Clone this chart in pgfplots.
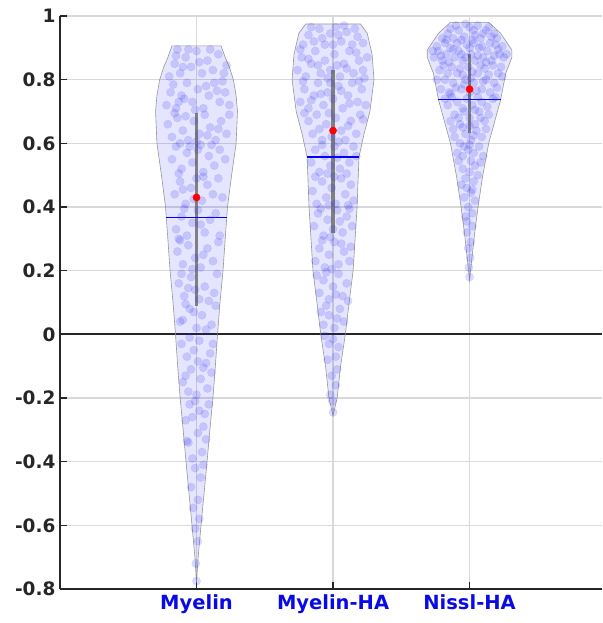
\documentclass[border=0pt]{standalone}
\usepackage{fontspec}
\setmainfont{DejaVu Sans}
\usepackage{pgfplots}
\pgfplotsset{compat=1.18}
\definecolor{txt}{RGB}{38,38,38}
\definecolor{lblue}{RGB}{10,10,230}
\definecolor{pblue}{RGB}{40,40,240}
\begin{document}
\begin{tikzpicture}
\begin{axis}[
  at={(0,0)}, anchor=south west,
  scale only axis, width=542pt, height=573pt,
  xmin=0, xmax=3.97, ymin=-0.8, ymax=1,
  axis x line*=bottom, axis y line*=left,
  axis line style={line width=1.8pt, color=txt},
  xtick={1,2,3}, xticklabels={Myelin,Myelin-HA,Nissl-HA},
  ytick={-0.8,-0.6,-0.4,-0.2,0,0.2,0.4,0.6,0.8,1},
  tick align=inside, major tick length=7pt,
  tick style={line width=1.4pt, color=txt},
  grid=major, major grid style={line width=1.4pt, color=black!15},
  /pgf/number format/assume math mode=true,
  yticklabel style={font=\fontsize{18.5}{20}\selectfont\bfseries, text=txt, xshift=-1pt},
  xticklabel style={font=\fontsize{19.5}{21}\selectfont\bfseries, text=lblue, yshift=-2pt},
  clip=false
]
% zero line
\addplot[txt, line width=2pt] coordinates {(0,0) (3.97,0)};
% violins
\pgfplotsset{vio/.style={fill=blue, fill opacity=0.1, draw=black!45, draw opacity=0.9, line width=0.6pt}}
\addplot[vio] coordinates {
(1,-0.78) (1.012,-0.7) (1.033,-0.6) (1.055,-0.5) (1.077,-0.4) (1.098,-0.3) (1.12,-0.2) (1.138,-0.1) (1.154,0) (1.172,0.1) (1.194,0.2) (1.21,0.3) (1.227,0.4) (1.257,0.5) (1.29,0.6) (1.30,0.7) (1.29,0.75) (1.27,0.8) (1.24,0.84) (1.21,0.87) (1.18,0.906)
(0.82,0.906) (0.79,0.87) (0.76,0.84) (0.73,0.8) (0.71,0.75) (0.70,0.7) (0.71,0.6) (0.743,0.5) (0.773,0.4) (0.79,0.3) (0.806,0.2) (0.828,0.1) (0.846,0) (0.862,-0.1) (0.88,-0.2) (0.902,-0.3) (0.923,-0.4) (0.945,-0.5) (0.967,-0.6) (0.988,-0.7)} -- cycle;
\addplot[vio] coordinates {
(2,-0.255) (2.03,-0.2) (2.055,-0.1) (2.09,0) (2.12,0.107) (2.147,0.2) (2.176,0.4) (2.19,0.557) (2.227,0.63) (2.27,0.7) (2.30,0.8) (2.286,0.88) (2.25,0.946) (2.20,0.975)
(1.80,0.975) (1.75,0.946) (1.714,0.88) (1.70,0.8) (1.73,0.7) (1.773,0.63) (1.81,0.557) (1.824,0.4) (1.853,0.2) (1.88,0.107) (1.91,0) (1.945,-0.1) (1.97,-0.2)} -- cycle;
\addplot[vio] coordinates {
(3,0.17) (3.015,0.23) (3.037,0.317) (3.062,0.4) (3.095,0.495) (3.14,0.6) (3.227,0.736) (3.265,0.82) (3.31,0.87) (3.31,0.893) (3.227,0.946) (3.14,0.98)
(2.86,0.98) (2.773,0.946) (2.69,0.893) (2.69,0.87) (2.735,0.82) (2.773,0.736) (2.86,0.6) (2.905,0.495) (2.938,0.4) (2.963,0.317) (2.985,0.23)} -- cycle;
% scatter points
\pgfplotsset{pts/.style={only marks, mark=*, mark size=4.2pt, mark options={fill=pblue, draw=pblue, fill opacity=0.17, draw opacity=0.12, line width=0.3pt}}}
\addplot[pts] coordinates {
(1.00,-0.775) (0.995,-0.72) (1.01,-0.65) (0.99,-0.61)
(0.975,-0.545) (1.02,-0.58) (1.01,-0.52)
(0.96,-0.48) (1.03,-0.45) (0.99,-0.42) (1.05,-0.41)
(0.93,-0.335) (0.94,-0.34) (1.04,-0.37) (1.01,-0.31) (0.97,-0.39) (1.07,-0.33)
(0.92,-0.27) (0.97,-0.26) (1.05,-0.29) (1.09,-0.22) (0.95,-0.22) (1.02,-0.24) (0.99,-0.21) (1.06,-0.25)
(0.90,-0.15) (0.94,-0.18) (1.00,-0.19) (1.08,-0.17) (1.11,-0.12) (0.96,-0.11) (1.03,-0.14) (0.92,-0.13) (1.05,-0.105)
(0.89,-0.03) (0.93,-0.07) (0.98,-0.05) (1.02,-0.02) (1.10,-0.06) (1.07,-0.09) (0.95,-0.01) (1.12,-0.03) (1.01,-0.085)
(0.88,0.04) (0.90,0.045) (0.95,0.08) (1.00,0.02) (1.04,0.06) (1.11,0.03) (1.14,0.09) (0.92,0.095) (1.07,0.015) (0.98,0.07)
(0.87,0.16) (0.91,0.12) (0.96,0.18) (1.02,0.11) (1.06,0.15) (1.13,0.13) (1.15,0.19) (0.89,0.19) (0.99,0.14) (1.09,0.105) (0.94,0.145)
(0.86,0.26) (0.90,0.22) (0.94,0.28) (0.99,0.24) (1.03,0.21) (1.08,0.27) (1.12,0.23) (1.16,0.29) (0.88,0.295) (1.05,0.25) (0.97,0.205)
(0.85,0.33) (0.89,0.37) (0.93,0.31) (0.97,0.35) (1.01,0.39) (1.06,0.32) (1.10,0.36) (1.14,0.38) (1.17,0.31) (0.91,0.395) (1.03,0.345) (0.87,0.30)
(0.84,0.44) (0.88,0.48) (0.92,0.41) (0.96,0.46) (1.00,0.49) (1.04,0.42) (1.08,0.47) (1.12,0.44) (1.16,0.49) (1.19,0.43) (0.90,0.455) (1.05,0.495) (0.98,0.425)
(0.82,0.55) (0.85,0.59) (0.89,0.52) (0.93,0.57) (0.97,0.54) (1.01,0.58) (1.05,0.51) (1.09,0.56) (1.13,0.53) (1.17,0.58) (1.21,0.55) (0.87,0.505) (1.03,0.595) (1.11,0.595) (0.95,0.59)
(0.79,0.66) (0.82,0.62) (0.86,0.68) (0.90,0.64) (0.94,0.61) (0.98,0.67) (1.02,0.63) (1.06,0.69) (1.10,0.65) (1.14,0.61) (1.18,0.67) (1.22,0.63) (1.24,0.69) (0.84,0.695) (0.92,0.685) (1.00,0.605) (1.08,0.625) (1.16,0.645) (0.88,0.60)
(0.78,0.72) (0.81,0.76) (0.85,0.71) (0.89,0.75) (0.93,0.79) (0.97,0.73) (1.01,0.77) (1.05,0.71) (1.09,0.75) (1.13,0.79) (1.17,0.73) (1.21,0.76) (1.24,0.72) (0.83,0.785) (0.91,0.74) (0.99,0.705) (1.07,0.78) (1.15,0.765) (0.87,0.73) (1.19,0.795)
(0.80,0.81) (0.84,0.85) (0.88,0.82) (0.92,0.87) (0.96,0.84) (1.00,0.89) (1.04,0.82) (1.08,0.86) (1.12,0.83) (1.16,0.88) (1.20,0.82) (0.86,0.895) (0.94,0.895) (1.10,0.895) (1.22,0.845) (0.90,0.84) (1.02,0.855) (0.85,0.875)
};
\addplot[pts] coordinates {
(2.00,-0.245) (1.995,-0.21)
(1.98,-0.19) (2.02,-0.16) (1.99,-0.13) (2.03,-0.11)
(1.96,-0.08) (2.02,-0.07) (2.04,-0.04) (1.97,-0.03) (2.00,-0.015) (1.94,-0.005)
(1.93,0.03) (1.97,0.06) (2.01,0.02) (2.05,0.08) (2.08,0.04) (1.95,0.09) (2.03,0.05) (1.91,0.07)
(1.90,0.13) (1.93,0.17) (1.97,0.11) (2.00,0.15) (2.04,0.19) (2.07,0.12) (2.10,0.16) (1.95,0.195) (2.02,0.125) (1.88,0.185) (2.11,0.105)
(1.87,0.23) (1.90,0.27) (1.94,0.21) (1.97,0.25) (2.01,0.29) (2.04,0.22) (2.08,0.26) (2.12,0.23) (1.92,0.295) (2.06,0.285) (1.99,0.205) (2.13,0.275)
(1.86,0.34) (1.89,0.38) (1.93,0.31) (1.96,0.36) (2.00,0.33) (2.03,0.39) (2.07,0.32) (2.10,0.37) (2.14,0.34) (1.91,0.395) (2.05,0.355) (1.98,0.305) (2.12,0.395)
(1.85,0.45) (1.88,0.41) (1.92,0.48) (1.95,0.43) (1.99,0.46) (2.02,0.41) (2.06,0.49) (2.09,0.44) (2.13,0.47) (2.15,0.42) (1.87,0.495) (2.01,0.495) (1.97,0.405) (2.11,0.405)
(1.84,0.54) (1.87,0.58) (1.90,0.51) (1.94,0.56) (1.98,0.53) (2.01,0.59) (2.05,0.52) (2.08,0.57) (2.12,0.54) (2.15,0.59) (1.92,0.595) (2.03,0.555) (1.96,0.505) (2.10,0.505) (2.17,0.56)
(1.82,0.67) (1.85,0.63) (1.88,0.69) (1.92,0.61) (1.95,0.66) (1.99,0.62) (2.02,0.68) (2.06,0.64) (2.09,0.61) (2.13,0.67) (2.17,0.63) (2.20,0.69) (1.79,0.695) (1.90,0.645) (2.04,0.605) (2.11,0.655) (1.97,0.695) (2.22,0.675)
(1.76,0.73) (1.79,0.77) (1.82,0.71) (1.86,0.75) (1.89,0.79) (1.93,0.72) (1.96,0.76) (2.00,0.74) (2.04,0.78) (2.07,0.71) (2.11,0.75) (2.14,0.79) (2.18,0.73) (2.21,0.77) (2.24,0.72) (1.78,0.795) (1.84,0.735) (1.91,0.755) (1.98,0.79) (2.06,0.765) (2.12,0.725) (2.19,0.795)
(1.74,0.83) (1.77,0.87) (1.80,0.81) (1.84,0.85) (1.87,0.89) (1.91,0.82) (1.94,0.86) (1.98,0.83) (2.01,0.88) (2.05,0.81) (2.08,0.85) (2.12,0.89) (2.15,0.82) (2.19,0.86) (2.22,0.83) (2.25,0.87) (1.76,0.895) (1.82,0.865) (1.89,0.845) (1.96,0.805) (2.03,0.845) (2.10,0.835) (2.17,0.885) (2.23,0.805)
(1.78,0.91) (1.82,0.94) (1.86,0.92) (1.90,0.96) (1.94,0.91) (1.98,0.945) (2.02,0.965) (2.06,0.92) (2.10,0.95) (2.14,0.91) (2.18,0.935) (2.22,0.915) (1.84,0.965) (1.92,0.93) (2.00,0.91) (2.08,0.97) (2.16,0.96) (2.04,0.94)
};
\addplot[pts] coordinates {
(3.00,0.18) (2.995,0.21) (3.005,0.24)
(2.99,0.27) (3.01,0.29) (2.98,0.32) (3.02,0.34)
(2.97,0.37) (3.02,0.38) (2.99,0.40) (3.04,0.42) (2.96,0.43) (3.01,0.445) (2.98,0.355)
(2.94,0.47) (2.98,0.46) (3.03,0.48) (3.06,0.50) (2.95,0.52) (3.00,0.51) (3.04,0.53) (2.92,0.545) (3.08,0.54) (2.97,0.49) (3.02,0.455) (3.01,0.545)
(2.91,0.57) (2.95,0.56) (2.99,0.58) (3.03,0.57) (3.07,0.59) (3.10,0.56) (2.89,0.62) (2.93,0.60) (2.97,0.63) (3.01,0.61) (3.05,0.64) (3.09,0.62) (3.12,0.645) (2.88,0.645) (2.95,0.65) (3.00,0.595) (3.03,0.625) (2.96,0.59)
(2.86,0.67) (2.89,0.69) (2.93,0.66) (2.96,0.70) (3.00,0.68) (3.04,0.66) (3.07,0.70) (3.11,0.67) (3.14,0.69) (2.84,0.72) (2.87,0.745) (2.91,0.73) (2.95,0.71) (2.98,0.74) (3.02,0.72) (3.06,0.745) (3.09,0.73) (3.13,0.715) (3.17,0.74) (2.82,0.74) (3.00,0.655) (3.08,0.68) (2.92,0.68) (3.19,0.745) (3.04,0.705)
(2.79,0.77) (2.82,0.80) (2.85,0.76) (2.88,0.79) (2.91,0.82) (2.94,0.77) (2.97,0.80) (3.00,0.76) (3.03,0.79) (3.06,0.82) (3.09,0.77) (3.12,0.80) (3.15,0.76) (3.18,0.79) (3.21,0.82) (2.78,0.83) (2.81,0.845) (2.84,0.82) (2.87,0.84) (2.90,0.775) (2.93,0.835) (2.96,0.785) (2.99,0.84) (3.02,0.825) (3.05,0.765) (3.08,0.845) (3.11,0.835) (3.14,0.815) (3.17,0.845) (3.20,0.775) (3.23,0.84) (2.76,0.80) (3.24,0.81) (2.86,0.755) (3.01,0.805) (3.10,0.795) (2.95,0.815)
(2.74,0.87) (2.77,0.89) (2.80,0.86) (2.83,0.88) (2.86,0.90) (2.89,0.87) (2.92,0.89) (2.95,0.86) (2.98,0.91) (3.01,0.88) (3.04,0.86) (3.07,0.90) (3.10,0.87) (3.13,0.89) (3.16,0.86) (3.19,0.91) (3.22,0.88) (3.25,0.87) (2.76,0.905) (2.79,0.875) (2.82,0.915) (2.85,0.855) (2.88,0.895) (2.91,0.915) (2.94,0.88) (2.97,0.87) (3.00,0.90) (3.03,0.915) (3.06,0.875) (3.09,0.905) (3.12,0.855) (3.15,0.915) (3.18,0.875) (3.21,0.895) (3.24,0.905) (3.27,0.88) (2.73,0.89)
(2.80,0.93) (2.84,0.945) (2.88,0.93) (2.92,0.955) (2.96,0.935) (3.00,0.965) (3.04,0.94) (3.08,0.93) (3.12,0.955) (3.16,0.935) (3.20,0.93) (2.90,0.97) (2.97,0.975) (3.06,0.97) (2.86,0.96) (3.14,0.965) (2.94,0.925) (3.02,0.925) (3.10,0.945) (2.83,0.925) (3.18,0.945) (3.03,0.955)
};
% interquartile boxes
\addplot[black!50, line width=3.5pt] coordinates {(1,0.09) (1,0.695)};
\addplot[black!50, line width=3.5pt] coordinates {(2,0.317) (2,0.83)};
\addplot[black!50, line width=3.5pt] coordinates {(3,0.632) (3,0.88)};
% medians
\addplot[blue, line width=1.2pt] coordinates {(0.78,0.368) (1.22,0.368)};
\addplot[blue, line width=1.2pt] coordinates {(1.81,0.557) (2.19,0.557)};
\addplot[blue, line width=1.2pt] coordinates {(2.77,0.738) (3.23,0.738)};
% means
\addplot[only marks, mark=*, mark size=3.6pt, red, mark options={fill=red, draw=red}] coordinates {(1,0.43) (2,0.64) (3,0.77)};
\end{axis}
\pgfresetboundingbox
\useasboundingbox (-60pt,-34pt) rectangle (542pt,589pt);
\end{tikzpicture}
\end{document}
